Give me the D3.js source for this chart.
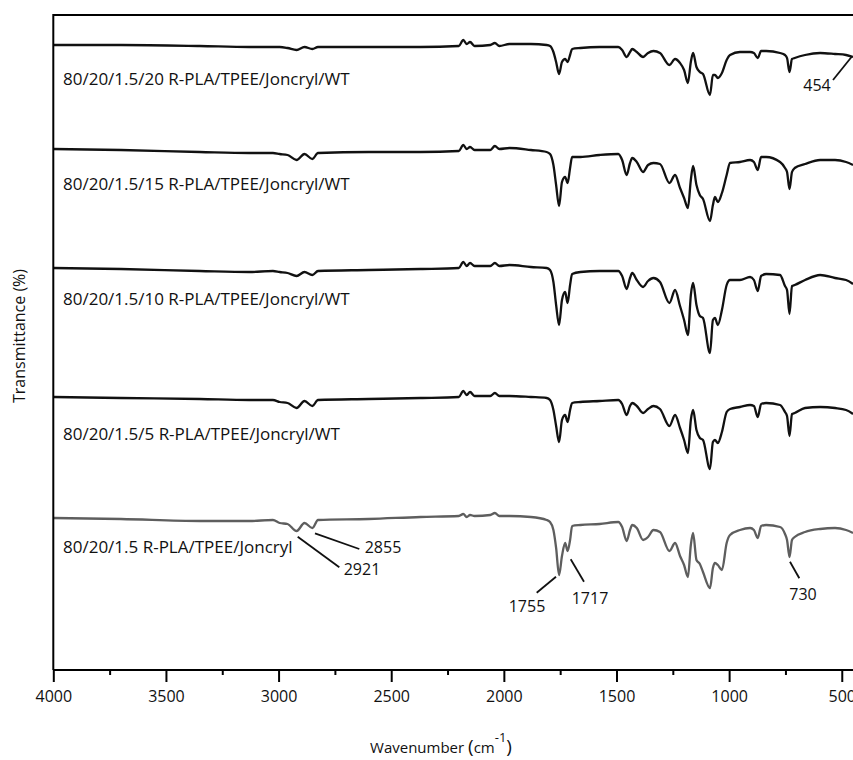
<!DOCTYPE html>
<html><head><meta charset="utf-8">
<script src="https://cdn.jsdelivr.net/npm/d3@7"></script>
<style>body{margin:0;background:#fff;} svg{display:block;} text{font-family:"Open Sans","Noto Sans",sans-serif;}</style>
</head><body><svg id="c" width="853" height="760"></svg>
<script>
// Wavenumber grid (cm-1)
const wavenumbers = [4000,3700,3350,3130,3025,2995,2960,2920,2885,2850,2825,2600,2370,2200,2180,2165,2150,2130,2060,2040,2020,1975,1880,1810,1795,1780,1768,1755,1742,1728,1717,1706,1697,1660,1575,1492,1475,1455,1440,1430,1410,1382,1360,1336,1307,1265,1240,1218,1200,1183,1170,1160,1145,1130,1116,1085,1072,1063,1050,1032,1011,996,952,907,890,873,858,836,774,752,743,732,721,709,663,596,530,481,450];

// Stacked (offset) spectra readings, depth below the top of the frame, one array per sample
const wt20 = [45,45,46,47,47,47,48,50,47,49,47,47,47,46,40,44,42,46,45,43,46,44,44,45,46,52,62,74,62,59,62,55,49,48,47,47,50,57,52,49,52,57,53,51,53,65,59,63,70,83,62,53,67,72,74,95,75,75,78,73,60,55,52,52,53,58,51,51,53,55,58,72,59,58,55,53,54,55,57];
const wt15 = [149,150,152,153,153,154,155,160,154,159,153,152,152,151,145,149,147,150,150,146,149,148,150,152,154,165,185,206,182,177,183,168,157,157,155,154,160,175,163,158,162,172,165,163,164,183,175,188,198,208,180,166,185,195,199,221,205,197,202,193,175,163,162,160,162,170,157,157,162,168,172,189,172,168,164,160,160,162,165];
const wt10 = [268,269,271,272,271,272,273,276,272,275,271,270,269,268,262,266,263,266,266,263,266,265,267,268,270,282,305,325,300,292,303,285,274,272,271,271,276,289,278,273,280,287,281,278,282,303,290,306,320,335,295,283,305,316,318,353,320,318,325,310,285,280,280,277,280,291,276,274,275,286,290,314,286,285,280,275,278,280,284];
const wt5 = [397,398,399,400,400,402,403,408,401,406,400,399,398,397,391,395,392,396,396,393,396,396,397,398,400,410,426,442,420,415,422,410,403,402,401,400,404,415,406,403,406,413,409,406,409,426,415,428,440,453,420,410,430,438,440,469,442,440,443,432,412,409,407,405,406,417,404,403,405,412,416,436,414,413,408,407,408,410,414];
const wt0 = [518,519,521,521,520,523,524,531,523,528,520,519,517,516,514,517,515,516,515,513,516,516,517,520,522,530,548,575,556,543,551,540,526,525,524,522,527,541,530,525,528,540,537,530,532,551,543,556,565,577,545,533,560,564,572,588,568,563,565,570,543,535,530,528,530,538,526,525,527,534,540,557,540,537,532,529,528,530,533];

const seriesNames = ["80/20/1.5/20 R-PLA/TPEE/Joncryl/WT","80/20/1.5/15 R-PLA/TPEE/Joncryl/WT","80/20/1.5/10 R-PLA/TPEE/Joncryl/WT","80/20/1.5/5 R-PLA/TPEE/Joncryl/WT","80/20/1.5 R-PLA/TPEE/Joncryl"];
const seriesValues = [wt20, wt15, wt10, wt5, wt0];
const seriesColors = ["#111","#111","#111","#111","#5e5e5e"];

const xTicks = [4000,3500,3000,2500,2000,1500,1000,500];
const xMinor = [3750,3250,2750,2250,1750,1250,750];

const svg = d3.select("#c");
const pLeft = 53.3, pTop = 15, pBottom = 670, pRight = 853;
const x = d3.scaleLinear().domain([4000, 400]).range([pLeft, 864.3]);
const y = d3.scaleLinear().domain([0, 655]).range([0, 655]);

// spectra
const line = d3.line().x((d,i)=>x(wavenumbers[i])).y(d=>y(d)).curve(d3.curveMonotoneX);
seriesValues.forEach((vals,k)=>{
  svg.append("path").datum(vals).attr("d", line)
    .attr("fill","none").attr("stroke",seriesColors[k]).attr("stroke-width",2.3)
    .attr("stroke-linejoin","round");
});

// frame
svg.append("line").attr("x1",pLeft).attr("x2",pRight+5).attr("y1",pTop).attr("y2",pTop).attr("stroke","#000").attr("stroke-width",2);
svg.append("line").attr("x1",pLeft).attr("x2",pLeft).attr("y1",pTop-1).attr("y2",pBottom).attr("stroke","#000").attr("stroke-width",2);

// axes
const ax = svg.append("g").attr("transform",`translate(0,${pBottom})`)
  .call(d3.axisBottom(x).tickValues(xTicks).tickSize(12).tickPadding(9).tickFormat(d3.format("d")));
ax.select(".domain").attr("stroke-width",2).attr("d",`M${pLeft},0H${pRight+5}`);
ax.selectAll(".tick line").attr("stroke-width",2);
ax.selectAll("text").attr("font-size",16).attr("fill","#111").attr("font-family","'Open Sans','Noto Sans',sans-serif");
const axm = svg.append("g").attr("transform",`translate(0,${pBottom})`)
  .call(d3.axisBottom(x).tickValues(xMinor).tickSize(5).tickFormat(""));
axm.select(".domain").remove();
axm.selectAll(".tick line").attr("stroke-width",2);

// series labels
const labelY = [85, 190, 305, 440, 553];
seriesNames.forEach((n,k)=>{
  svg.append("text").attr("x",63).attr("y",labelY[k]).attr("font-size",17).attr("fill","#111").text(n);
});

// peak annotations
const peakLabels = ["454","2855","2921","1755","1717","730"];
const ann = [
  {tx:817, ty:85, l:[833,80,851.7,56.7]},
  {tx:383, ty:547, l:[315,533.3,359.3,549]},
  {tx:362, ty:569, l:[297.7,536.7,339.3,567.3]},
  {tx:527, ty:606, l:[536.7,592.7,556,576.7]},
  {tx:590, ty:598, l:[570.7,559.3,584,581.7]},
  {tx:803, ty:594, l:[790,561.7,799.3,578.3]}
];
ann.forEach((a,i)=>{
  svg.append("line").attr("x1",a.l[0]).attr("y1",a.l[1]).attr("x2",a.l[2]).attr("y2",a.l[3]).attr("stroke","#111").attr("stroke-width",1.8);
  svg.append("text").attr("x",a.tx).attr("y",a.ty).attr("text-anchor","middle").attr("dominant-baseline","central").attr("font-size",16).attr("fill","#111").text(peakLabels[i]);
});

// axis titles
const xt = svg.append("text").attr("x",441).attr("y",753).attr("text-anchor","middle").attr("font-size",15).attr("fill","#111");
xt.append("tspan").text("Wavenumber ");
xt.append("tspan").attr("font-size",19).text("(");
xt.append("tspan").text("cm");
xt.append("tspan").attr("dy",-11).attr("font-size",13).text("-1");
xt.append("tspan").attr("dy",11).attr("font-size",19).text(")");

svg.append("text").attr("transform","translate(19,336) rotate(-90)").attr("text-anchor","middle").attr("dominant-baseline","central").attr("font-size",16).attr("fill","#111").text("Transmittance (%)");
</script></body></html>
